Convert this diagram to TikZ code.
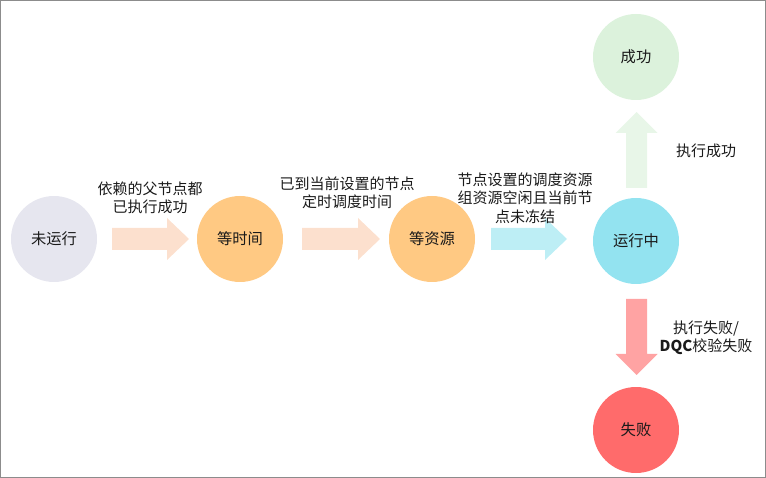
\documentclass[tikz,border=0pt]{standalone}
\usepackage{fontspec}
\setmainfont{Noto Sans CJK SC}
\definecolor{cIdle}{HTML}{E6E6EF}
\definecolor{cWait}{HTML}{FFC983}
\definecolor{cRun}{HTML}{93E3F0}
\definecolor{cOk}{HTML}{DCF2DC}
\definecolor{cFail}{HTML}{FF6B6B}
\definecolor{aPeach}{HTML}{FCE0CE}
\definecolor{aCyan}{HTML}{BDEEF5}
\definecolor{aGreen}{HTML}{E8F6E8}
\definecolor{aPink}{HTML}{FFA3A3}
\definecolor{cText}{HTML}{1A1A1A}
\definecolor{cBorder}{HTML}{8C8C8C}
\tikzset{
  state/.style={circle, minimum size=86pt, inner sep=0pt, draw=none, text=cText,
    font=\fontsize{15.3pt}{18pt}\selectfont},
  lbl/.style={align=center, text=cText, inner sep=0pt,
    font=\fontsize{15pt}{18.5pt}\selectfont}
}
% horizontal block arrow: #1 colour, #2 start x, #3 head-base x, #4 tip x, #5 centre y
\newcommand\harrowblk[5]{%
  \fill[#1] (#2,#5-11) -- (#3,#5-11) -- (#3,#5-21) -- (#4,#5) -- (#3,#5+21)
    -- (#3,#5+11) -- (#2,#5+11) -- cycle;}
% vertical block arrow: #1 colour, #2 start y, #3 head-base y, #4 tip y, #5 centre x
\newcommand\varrowblk[5]{%
  \fill[#1] (#5-10.5,#2) -- (#5-10.5,#3) -- (#5-21,#3) -- (#5,#4) -- (#5+21,#3)
    -- (#5+10.5,#3) -- (#5+10.5,#2) -- cycle;}
\begin{document}
\begin{tikzpicture}[x=1pt,y=-1pt]
\useasboundingbox (0,0) rectangle (766,478);
\draw[cBorder, line width=1pt] (0.5,0.5) rectangle (765.5,477.5);
% states
\node[state, fill=cIdle] (idle) at (54,239) {未运行};
\node[state, fill=cWait] (wtime) at (240,239) {等时间};
\node[state, fill=cWait] (wres) at (432,239) {等资源};
\node[state, fill=cRun] (run) at (636,241) {运行中};
\node[state, fill=cOk] (ok) at (636,57) {成功};
\node[state, fill=cFail] (fail) at (636,430) {失败};
% block arrows
\harrowblk{aPeach}{112}{167}{189}{239}
\harrowblk{aPeach}{302}{358}{380}{239}
\harrowblk{aCyan}{491}{545}{567}{239}
\varrowblk{aGreen}{188}{133}{112}{636.5}
\varrowblk{aPink}{299}{354}{375}{636.5}
% labels
\node[lbl] (l1) at (150,198) {依赖的父节点都\\已执行成功};
\node[lbl] (l2) at (347,193) {已到当前设置的节点\\定时调度时间};
\node[lbl] (l3) at (525,198) {节点设置的调度资源\\组资源空闲且当前节\\点未冻结};
\node[lbl] (l4) at (706,151) {执行成功};
\node[lbl] (l5) at (706,338) {执行失败/\\\textbf{DQC}校验失败};
\end{tikzpicture}
\end{document}
